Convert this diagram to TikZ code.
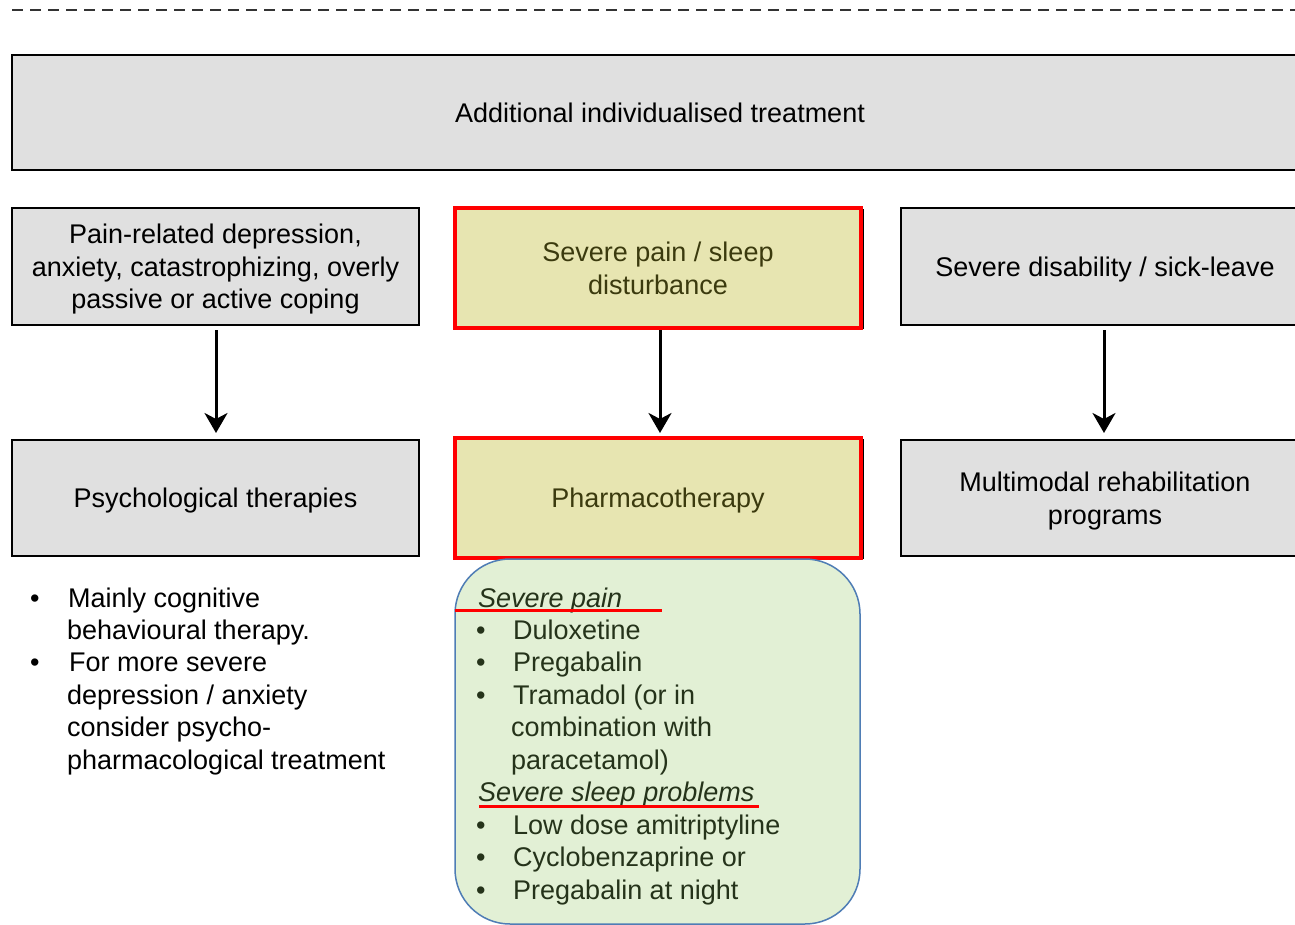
\documentclass[tikz,border=0pt]{standalone}
\usepackage{fontspec}
\setmainfont{Liberation Sans}
\usetikzlibrary{arrows.meta}
\definecolor{boxgray}{HTML}{E0E0E0}
\definecolor{boxyellow}{HTML}{E7E5B1}
\definecolor{boxgreen}{HTML}{E2F0D5}
\definecolor{greenedge}{HTML}{4F7DB5}
\definecolor{olivetext}{HTML}{3B3A0E}
\definecolor{greentext}{HTML}{25331A}
\tikzset{
  txt/.style={font=\fontsize{27}{32.5}\selectfont},
  graybox/.style={txt, draw=black, line width=2, fill=boxgray, inner sep=0, align=center, text depth=-3pt},
  yellowbox/.style={txt, draw=red, line width=4, fill=boxyellow, inner sep=0, align=center, text=olivetext, text depth=-3pt},
  lineitem/.style={txt, anchor=west, inner sep=0, text height=20, text depth=0},
  flowarrow/.style={line width=3, -{Stealth[length=20, width=23, inset=6]}},
  redline/.style={red, line width=3},
}
\begin{document}
\begin{tikzpicture}[x=1pt, y=-1pt]
\useasboundingbox (0,0) rectangle (1295,925);
\clip (0,0) rectangle (1295,925);

% dashed rule along the top
\coordinate (ruleL) at (12,10);
\coordinate (ruleR) at (1295,10);
\draw[line width=2, black!80, dash pattern=on 11pt off 7pt] (ruleL) -- (ruleR);

% header box
\node[graybox, minimum width=1296, minimum height=115] (head) at (660,112.5) {Additional individualised treatment};

% condition row
\node[graybox, minimum width=407, minimum height=117] (cond1) at (215.5,266.5)
  {Pain-related depression,\\anxiety, catastrophizing, overly\\passive or active coping};
\draw[line width=2, black] (459,210) rectangle (863,328);
\node[yellowbox, minimum width=406, minimum height=120, text depth=0pt] (cond2) at (658,268)
  {Severe pain / sleep\\disturbance};
\node[graybox, minimum width=408, minimum height=117] (cond3) at (1105,266.5)
  {Severe disability / sick-leave};

% treatment row
\node[graybox, minimum width=407, minimum height=116] (treat1) at (215.5,498)
  {Psychological therapies};
\draw[line width=2, black] (459,440) rectangle (863,558);
\node[yellowbox, minimum width=406, minimum height=120] (treat2) at (658,498)
  {Pharmacotherapy};
\node[graybox, minimum width=408, minimum height=116] (treat3) at (1105,498)
  {Multimodal rehabilitation\\programs};

% arrows between rows
\coordinate (a1s) at (216,330);
\coordinate (a1e) at (216,433);
\coordinate (a2s) at (660,330);
\coordinate (a2e) at (660,433);
\coordinate (a3s) at (1104,330);
\coordinate (a3e) at (1104,433);
\draw[flowarrow] (a1s) -- (a1e);
\draw[flowarrow] (a2s) -- (a2e);
\draw[flowarrow] (a3s) -- (a3e);

% notes under psychological therapies
\node[lineitem] (pb1) at (30,597) {•};
\node[lineitem] (p1) at (68,597) {Mainly cognitive};
\node[lineitem] (p2) at (67,629) {behavioural therapy.};
\node[lineitem] (pb2) at (30,661) {•};
\node[lineitem] (p3) at (69,661) {For more severe};
\node[lineitem] (p4) at (67,694) {depression / anxiety};
\node[lineitem] (p5) at (67,726) {consider psycho-};
\node[lineitem] (p6) at (67,759) {pharmacological treatment};

% medication panel
\draw[greenedge, line width=1.5, fill=boxgreen, rounded corners=55] (455,559) rectangle (860,924);
\begin{scope}[every node/.style={lineitem, text=greentext}]
\node (h1) at (478,597) {\itshape Severe pain};
\node (mb1) at (476,629) {•};
\node (m1) at (513,629) {Duloxetine};
\node (mb2) at (476,661) {•};
\node (m2) at (513,661) {Pregabalin};
\node (mb3) at (476,694) {•};
\node (m3) at (513,694) {Tramadol (or in};
\node (m4) at (511,726) {combination with};
\node (m5) at (511,759) {paracetamol)};
\node (h2) at (478,791) {\itshape Severe sleep problems};
\node (sb1) at (476,824) {•};
\node (s1) at (513,824) {Low dose amitriptyline};
\node (sb2) at (476,856) {•};
\node (s2) at (513,856) {Cyclobenzaprine or};
\node (sb3) at (476,889) {•};
\node (s3) at (513,889) {Pregabalin at night};
\end{scope}

% red underlines of the panel headings
\coordinate (u1a) at (455,610);
\coordinate (u1b) at (662,610);
\draw[redline] (u1a) -- (u1b);
\coordinate (u2a) at (479,806);
\coordinate (u2b) at (759,806);
\draw[redline] (u2a) -- (u2b);
\end{tikzpicture}
\end{document}
